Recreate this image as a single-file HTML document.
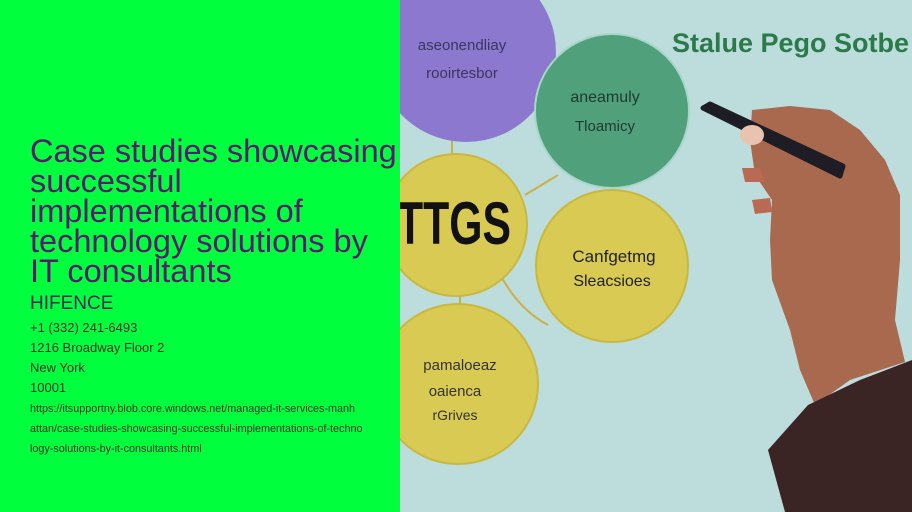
<!DOCTYPE html>
<html><head><meta charset="utf-8"><style>
html,body{margin:0;padding:0;width:912px;height:512px;overflow:hidden;font-family:"Liberation Sans",sans-serif}
#l{position:absolute;left:0;top:0;width:400px;height:512px;background:#00ff3c}
.t{position:absolute;left:30px;top:136px;font-size:32.5px;line-height:30px;color:#5a1a6e;width:400px;white-space:nowrap}
.h{position:absolute;left:30px;top:293px;font-size:19px;color:#3a2a5a}
.s{position:absolute;left:30px;font-size:13px;color:#333}
.u{position:absolute;left:30px;font-size:10.8px;color:#333;white-space:nowrap}
</style></head><body>
<div id="l">
<div class="t">Case studies showcasing<br>successful<br>implementations of<br>technology solutions by<br>IT consultants</div>
<div class="h">HIFENCE</div>
<div class="s" style="top:320px">+1 (332) 241-6493</div>
<div class="s" style="top:340px">1216 Broadway Floor 2</div>
<div class="s" style="top:360px">New York</div>
<div class="s" style="top:380px">10001</div>
<div class="u" style="top:403px">https://itsupportny.blob.core.windows.net/managed-it-services-manh</div>
<div class="u" style="top:423px">attan/case-studies-showcasing-successful-implementations-of-techno</div>
<div class="u" style="top:443px">logy-solutions-by-it-consultants.html</div>
</div>
<svg style="position:absolute;left:400px;top:0" width="512" height="512" viewBox="400 0 512 512">
<rect x="400" y="0" width="512" height="512" fill="#bddcdc"/>
<g stroke="#c9b04a" stroke-width="2" fill="none">
<path d="M452 140 L452 158"/><path d="M525 195 L558 175"/><path d="M502 278 Q520 310 548 325"/><path d="M460 295 L460 305"/>
</g>
<circle cx="466" cy="52" r="90" fill="#8c79cf"/>
<circle cx="612" cy="111" r="77" fill="#50a07c" stroke="#a8d6c8" stroke-width="2"/>
<circle cx="456" cy="225" r="71" fill="#d8ca52" stroke="#c9b840" stroke-width="2"/>
<circle cx="612" cy="266" r="76" fill="#d8ca52" stroke="#c9b840" stroke-width="2"/>
<circle cx="458" cy="384" r="80" fill="#d8ca52" stroke="#c9b840" stroke-width="2"/>
<g font-family="Liberation Sans,sans-serif" fill="#333" text-anchor="middle">
<text x="462" y="50" font-size="15" fill="#3b3560">aseonendliay</text>
<text x="462" y="78" font-size="15" fill="#3b3560">rooirtesbor</text>
<text x="605" y="102" font-size="16" fill="#1e3a2e">aneamuly</text>
<text x="605" y="131" font-size="15" fill="#1e3a2e">Tloamicy</text>
<text x="614" y="262" font-size="17" fill="#222">Canfgetmg</text>
<text x="612" y="286" font-size="16" fill="#222">Sleacsioes</text>
<text x="460" y="370" font-size="15">pamaloeaz</text>
<text x="455" y="396" font-size="15">oaienca</text>
<text x="455" y="420" font-size="14">rGrives</text>
</g>
<text x="397" y="244" font-family="Liberation Sans,sans-serif" font-size="60" font-weight="bold" fill="#111" textLength="114" lengthAdjust="spacingAndGlyphs">TTGS</text>
<text x="672" y="52" font-family="Liberation Sans,sans-serif" font-size="27" fill="#2a7a4a" font-weight="bold">Stalue Pego Sotbe</text>
<path d="M752 110 L790 106 L830 110 L860 130 L885 160 L900 195 L900 260 L895 320 L905 362 L850 380 L815 405 L800 370 L790 330 L772 280 L770 240 L772 200 L755 175 L750 140 Z" fill="#a8694e"/>
<path d="M742 168 L760 168 L765 182 L745 182 Z M752 200 L770 198 L772 212 L755 214Z" fill="#b86a52"/>
<path d="M703 108 L710 104 L843 166 L840 176 Z" fill="#1e1c24" stroke="#1e1c24" stroke-width="5" stroke-linejoin="round"/>
<ellipse cx="752" cy="135" rx="12" ry="10" fill="#e8c4b0"/>
<path d="M768 450 L808 405 L860 380 L912 360 L912 512 L785 512 Z" fill="#3b2424"/>
</svg>
</body></html>
